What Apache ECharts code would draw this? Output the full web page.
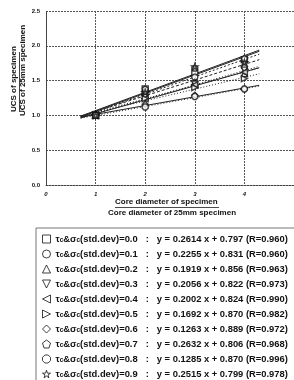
<!DOCTYPE html>
<html lang="en">
<head>
    <meta charset="UTF-8">
    <title>UCS size effect</title>
    <script src="https://cdn.jsdelivr.net/npm/echarts@6/dist/echarts.min.js"></script>
    <style>
        html, body { margin: 0; padding: 0; background: #fff; }
    </style>
</head>
<body>
<div id="main" style="width:294px;height:380px;"></div>
<script>
    // data
    var xValues = [1, 2, 3, 4];
    var stdDevs = ['0.0', '0.1', '0.2', '0.3', '0.4', '0.5', '0.6', '0.7', '0.8', '0.9'];
    var pts00 = [1.00, 1.38, 1.62, 1.80];
    var pts01 = [1.00, 1.34, 1.55, 1.70];
    var pts02 = [1.00, 1.29, 1.47, 1.60];
    var pts03 = [1.00, 1.26, 1.45, 1.65];
    var pts04 = [1.00, 1.24, 1.44, 1.62];
    var pts05 = [1.00, 1.24, 1.40, 1.53];
    var pts06 = [1.00, 1.16, 1.29, 1.38];
    var pts07 = [1.00, 1.38, 1.68, 1.82];
    var pts08 = [1.00, 1.12, 1.27, 1.38];
    var pts09 = [1.00, 1.33, 1.70, 1.76];
    var allPts = [pts00, pts01, pts02, pts03, pts04, pts05, pts06, pts07, pts08, pts09];
    // regression lines given in the legend
    var slopes = [0.2614, 0.2255, 0.1919, 0.2056, 0.2002, 0.1692, 0.1263, 0.2632, 0.1285, 0.2515];
    var intercepts = [0.797, 0.831, 0.856, 0.822, 0.824, 0.870, 0.889, 0.806, 0.870, 0.799];
    var rValues = ['0.960', '0.960', '0.963', '0.973', '0.990', '0.982', '0.972', '0.968', '0.996', '0.978'];
    var slopeText = ['0.2614', '0.2255', '0.1919', '0.2056', '0.2002', '0.1692', '0.1263', '0.2632', '0.1285', '0.2515'];
    var interceptText = ['0.797', '0.831', '0.856', '0.822', '0.824', '0.870', '0.889', '0.806', '0.870', '0.799'];
    var lineRange = [0.7, 4.3];

    var STAR = 'path://M50,0 L61,35 L98,35 L68,57 L79,91 L50,70 L21,91 L32,57 L2,35 L39,35 Z';
    var PENTA = 'path://M50,0 L100,38 L81,100 L19,100 L0,38 Z';
    var OCTA = 'path://M30,0 L70,0 L100,30 L100,70 L70,100 L30,100 L0,70 L0,30 Z';
    var TRI_UP = 'path://M50,0 L100,100 L0,100 Z';
    var TRI_DOWN = 'path://M0,0 L100,0 L50,100 Z';
    var TRI_LEFT = 'path://M0,50 L100,0 L100,100 Z';
    var TRI_RIGHT = 'path://M0,0 L100,50 L0,100 Z';
    var symbols = ['rect', 'circle', TRI_UP, TRI_DOWN, TRI_LEFT, TRI_RIGHT, 'diamond', PENTA, OCTA, STAR];
    var lineTypes = ['solid', [3, 2], [1, 2], [1, 2], 'solid', [1, 2], 'solid', 'solid', [1, 2], [2, 2]];

    var FONT = 'Liberation Sans';
    var series = [];
    var names = [];
    for (var i = 0; i < stdDevs.length; i++) {
        var name = 's' + i;
        names.push(name);
        series.push({
            name: name,
            type: 'scatter',
            symbol: symbols[i],
            symbolSize: 6,
            z: 5,
            itemStyle: { color: '#fff', borderColor: '#111', borderWidth: 1.4 },
            data: xValues.map(function (x, k) { return [x, allPts[i][k]]; })
        });
        series.push({
            type: 'line',
            symbol: 'none',
            silent: true,
            z: 3,
            lineStyle: { color: '#222', width: 1, type: lineTypes[i] },
            data: lineRange.map(function (x) { return [x, slopes[i] * x + intercepts[i]]; })
        });
    }

    var chart = echarts.init(document.getElementById('main'));
    chart.setOption({
        animation: false,
        backgroundColor: '#fff',
        textStyle: { fontFamily: FONT },
        grid: { left: 46, top: 11, width: 250, height: 174 },
        xAxis: {
            type: 'value', min: 0, max: 5, interval: 1,
            axisLine: { lineStyle: { color: '#444', type: [2, 1], width: 1 } },
            axisTick: { show: false },
            axisLabel: {
                fontSize: 6, fontWeight: 'bold', fontStyle: 'italic', color: '#111',
                margin: 6, showMaxLabel: false, fontFamily: FONT
            },
            splitLine: { lineStyle: { color: '#555', type: [2, 1], width: 1 } }
        },
        yAxis: {
            type: 'value', min: 0, max: 2.5, interval: 0.5,
            axisLine: { show: true, lineStyle: { color: '#444', type: [2, 1], width: 1 } },
            axisTick: { show: false },
            axisLabel: {
                fontSize: 6, fontWeight: 'bold', color: '#111', margin: 6, fontFamily: FONT,
                formatter: function (v) { return v.toFixed(1); }
            },
            splitLine: { lineStyle: { color: '#555', type: [2, 1], width: 1 } }
        },
        legend: {
            data: names,
            orient: 'vertical',
            left: 36, top: 228, height: 200,
            padding: [6, 10, 10, 6],
            itemWidth: 8, itemHeight: 8,
            itemGap: 5,
            borderColor: '#777', borderWidth: 1,
            selectedMode: false,
            itemStyle: { color: '#fff', borderColor: '#111', borderWidth: 1 },
            textStyle: {
                fontFamily: FONT, color: '#111',
                rich: {
                    a: { fontSize: 9.4, fontWeight: 'bold', fontFamily: FONT, color: '#111', lineHeight: 10 },
                    s: { fontSize: 6.5, fontWeight: 'bold', fontFamily: FONT, color: '#111', lineHeight: 10, padding: [3, 0, 0, 0] },
                    b: { fontSize: 9.4, fontWeight: 'bold', fontFamily: FONT, color: '#111', lineHeight: 10, padding: [0, 8, 0, 8] }
                }
            },
            formatter: function (n) {
                var k = +n.slice(1);
                return '{a|τ}{s|c}{a|&σ}{s|c}{a|(std.dev)=' + stdDevs[k] + '}{b|:}{a|y = ' +
                    slopeText[k] + ' x + ' + interceptText[k] + ' (R=' + rValues[k] + ')}';
            }
        },
        graphic: [
            {
                type: 'text', left: 115, top: 198,
                style: { text: 'Core diameter of specimen', font: 'bold 8px ' + FONT, fill: '#111' }
            },
            { type: 'rect', shape: { x: 115, y: 207, width: 104, height: 0.8 }, style: { fill: '#111' } },
            {
                type: 'text', left: 108, top: 209,
                style: { text: 'Core diameter of 25mm specimen', font: 'bold 8px ' + FONT, fill: '#111' }
            },
            {
                type: 'text', x: 10, y: 112, rotation: Math.PI / 2,
                style: { text: 'UCS of specimen', font: 'bold 8px ' + FONT, fill: '#111' }
            },
            { type: 'rect', shape: { x: 19, y: 52, width: 0.8, height: 60 }, style: { fill: '#111' } },
            {
                type: 'text', x: 19, y: 116, rotation: Math.PI / 2,
                style: { text: 'UCS of 25mm specimen', font: 'bold 8px ' + FONT, fill: '#111' }
            }
        ],
        series: series
    });
</script>
</body>
</html>
